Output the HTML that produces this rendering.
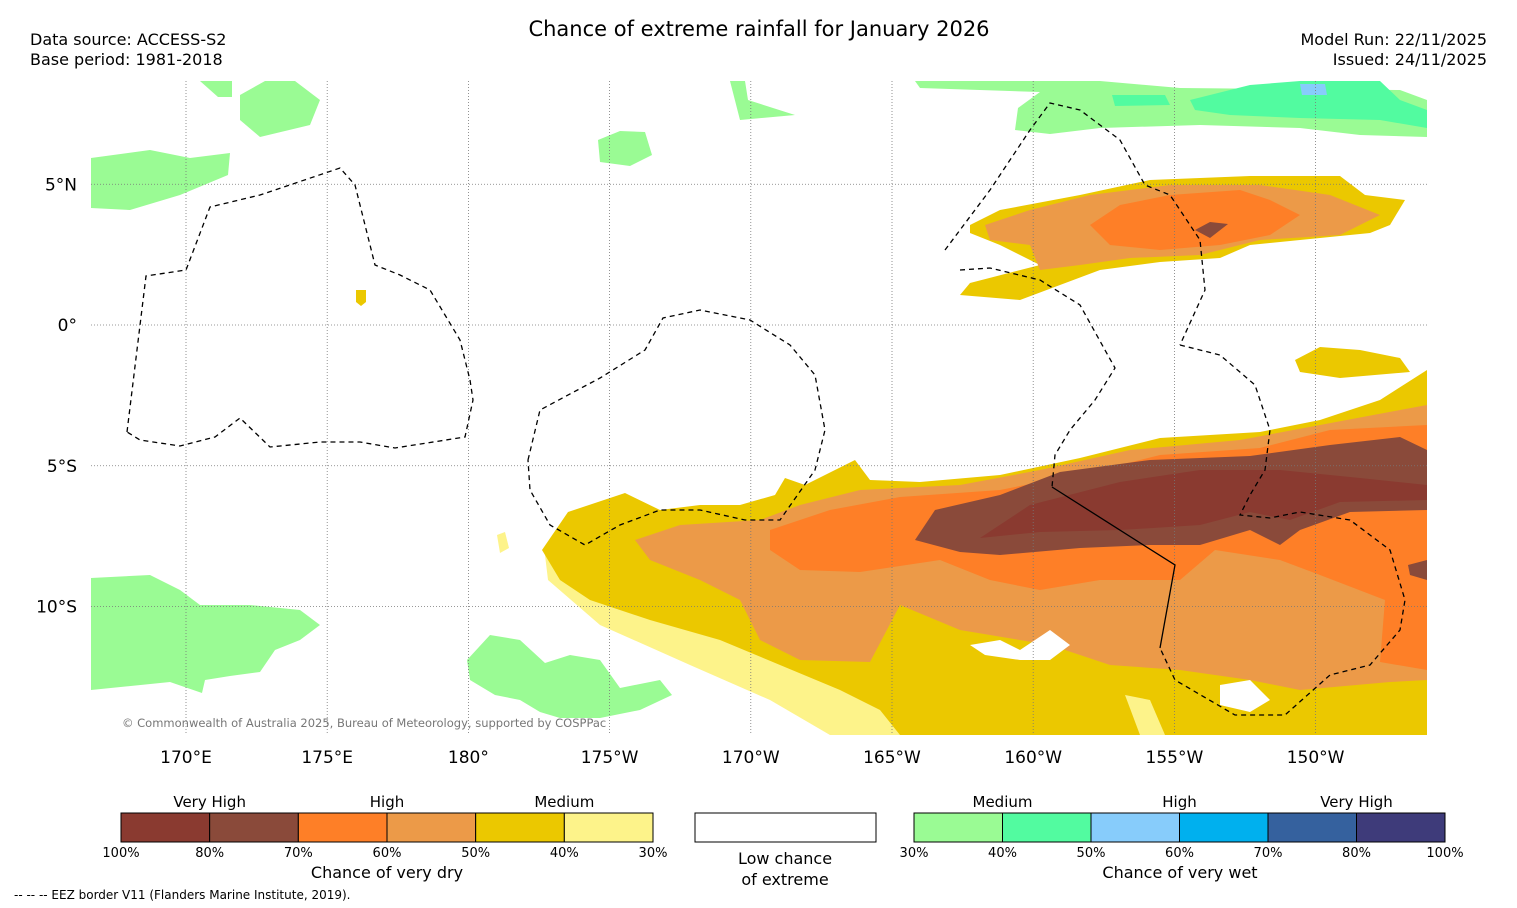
<!DOCTYPE html>
<html><head><meta charset="utf-8">
<style>
body{margin:0;background:#fff;font-family:"Liberation Sans","DejaVu Sans",sans-serif;}
#wrap{position:relative;width:1517px;height:908px;overflow:hidden;background:#fff}
svg text{font-family:"DejaVu Sans","Liberation Sans",sans-serif}
</style></head><body>
<div id="wrap">
<svg id="svg" width="1517" height="908" xmlns="http://www.w3.org/2000/svg">
<text x="759" y="36" font-size="21" text-anchor="middle">Chance of extreme rainfall for January 2026</text>
<text x="30" y="45" font-size="16">Data source: ACCESS-S2</text>
<text x="30" y="65" font-size="16">Base period: 1981-2018</text>
<text x="1487" y="45" font-size="16" text-anchor="end">Model Run: 22/11/2025</text>
<text x="1487" y="65" font-size="16" text-anchor="end">Issued: 24/11/2025</text>
<defs><clipPath id="mc"><rect x="91" y="81" width="1336" height="654"/></clipPath></defs>
<g id="map" clip-path="url(#mc)">
<polygon fill="#9afb94" points="91,158 150,150 190,158 230,153 228,175 180,195 130,210 91,208"/>
<polygon fill="#9afb94" points="240,95 265,81 295,81 320,100 310,125 260,137 240,120"/>
<polygon fill="#9afb94" points="200,81 232,81 232,97 218,97"/>
<polygon fill="#9afb94" points="598,140 620,131 645,132 652,155 630,166 600,162"/>
<polygon fill="#9afb94" points="730,81 745,81 748,100 795,115 740,120"/>
<polygon fill="#9afb94" points="915,81 1100,81 1180,88 1400,90 1427,100 1427,137 1360,135 1300,128 1200,125 1100,128 1050,134 1015,130 1018,108 1040,92 920,88"/>
<polygon fill="#52fba0" points="1112,95 1165,95 1170,105 1115,106"/>
<polygon fill="#52fba0" points="1190,100 1250,85 1300,81 1380,81 1400,100 1427,110 1427,128 1380,120 1300,118 1230,115 1195,110"/>
<polygon fill="#87ccfb" points="1300,84 1325,84 1327,95 1302,95"/>
<polygon fill="#9afb94" points="91,578 150,575 180,590 200,605 250,605 300,610 320,625 300,640 275,650 260,672 230,676 205,680 202,693 170,682 91,690"/>
<polygon fill="#9afb94" points="467,660 490,635 520,640 545,663 570,655 600,660 620,688 660,680 672,695 640,710 600,718 560,718 540,712 520,700 495,695 470,680"/>
<polygon fill="#fdf38a" points="545,555 548,580 600,625 690,665 770,700 830,735 910,735 910,700 700,600 560,560"/>
<polygon fill="#ebc800" points="542,550 568,512 610,498 625,493 660,510 700,505 740,505 775,495 785,478 805,485 855,460 870,480 920,482 1000,475 1080,458 1160,438 1260,432 1320,420 1380,400 1427,370 1427,735 900,735 880,710 840,690 780,665 720,640 650,620 590,600 560,580"/>
<polygon fill="#fdf38a" points="1125,695 1150,700 1165,735 1140,735"/>
<polygon fill="#ec9a48" points="635,540 680,525 760,520 800,505 860,490 960,485 1040,470 1130,450 1240,440 1320,425 1400,410 1427,405 1427,680 1390,682 1300,690 1250,680 1180,670 1110,665 1050,645 960,630 900,605 870,662 800,660 760,640 740,600 700,580 650,560"/>
<polygon fill="#fe7f27" points="770,530 830,510 900,497 1000,490 1100,470 1160,455 1260,448 1330,430 1427,425 1427,670 1380,662 1385,600 1320,575 1280,560 1215,550 1180,580 1100,580 1040,590 990,580 940,560 860,572 800,570 770,550"/>
<polygon fill="#8a4a3a" points="915,540 935,510 1000,495 1060,472 1150,460 1250,456 1330,445 1400,437 1427,450 1427,510 1350,512 1300,530 1280,545 1250,530 1200,545 1150,545 1080,548 1000,555 960,552"/>
<polygon fill="#8a3a30" points="980,538 1030,505 1120,482 1200,470 1280,470 1360,478 1427,485 1427,500 1340,502 1290,520 1250,512 1200,525 1120,530 1040,532"/>
<polygon fill="#8a4a3a" points="1408,565 1427,560 1427,580 1410,575"/>
<polygon fill="#fff" points="970,645 1000,640 1020,650 1050,630 1070,645 1050,660 1020,660 985,655"/>
<polygon fill="#fff" points="1220,685 1250,680 1270,700 1250,712 1220,705"/>
<polygon fill="#ebc800" points="1295,360 1320,347 1360,350 1400,358 1410,372 1340,378 1300,372"/>
<polygon fill="#ebc800" points="970,225 1000,210 1080,195 1150,180 1250,176 1340,176 1365,195 1405,200 1390,225 1370,233 1300,240 1250,245 1220,258 1160,262 1100,270 1060,285 1020,300 960,295 970,283 1040,265 1000,245 970,233"/>
<polygon fill="#ec9a48" points="985,225 1030,210 1090,195 1170,185 1260,185 1330,195 1380,215 1340,235 1260,240 1200,255 1130,258 1080,265 1040,270 1030,245 990,240"/>
<polygon fill="#fe7f27" points="1090,225 1120,205 1170,195 1240,190 1270,200 1300,215 1270,235 1220,245 1160,250 1110,245"/>
<polygon fill="#8a4a3a" points="1195,230 1210,222 1228,224 1210,238"/>
<polygon fill="#ebc800" points="356,290 366,290 366,302 361,306 356,302"/>
<polygon fill="#fdf38a" points="497,535 505,532 509,548 500,553"/>
<g id="grid"></g>
<g fill="none" stroke="#000" stroke-width="1.3" stroke-dasharray="5,4">
<polyline points="127,432 146,276 186,270 210,207 260,195 340,168 355,185 375,265 400,275 430,290 460,340 470,380 473,400 465,437 395,448 360,442 320,442 270,447 240,418 215,437 180,446 140,440 127,432"/>
<polyline points="528,460 540,410 600,378 645,350 663,318 700,310 750,320 790,345 815,375 825,430 815,470 780,520 745,520 700,510 660,510 620,525 585,545 550,525 530,490 528,460"/>
<polyline points="945,250 990,190 1030,130 1050,103 1080,110 1120,140 1145,185 1170,195 1200,240 1205,290 1180,345"/>
<polyline points="960,270 990,268 1040,280 1080,305 1115,368 1095,400 1070,430 1055,455 1052,487"/>
<polyline points="1180,345 1220,355 1255,385 1270,430 1265,470 1250,495 1240,515 1270,518 1300,512 1350,520 1390,550 1405,600 1400,630 1370,665 1330,675 1285,715 1235,715 1175,680 1160,648"/>
</g>
<polyline fill="none" stroke="#000" stroke-width="1.3" points="1052,487 1175,565 1160,648"/>
</g>
<text x="122" y="727" font-size="11.5" fill="#777">© Commonwealth of Australia 2025, Bureau of Meteorology, supported by COSPPac</text>
<g id="xlabels"></g>
<g id="ylabels"></g>
<g id="legend"></g>
<rect x="695" y="813" width="181" height="29" fill="#fff" stroke="#000"/>
<text x="785" y="864" font-size="16" text-anchor="middle">Low chance</text>
<text x="785" y="885" font-size="16" text-anchor="middle">of extreme</text>
<text x="387" y="878" font-size="16" text-anchor="middle">Chance of very dry</text>
<text x="1180" y="878" font-size="16" text-anchor="middle">Chance of very wet</text>
<text x="14" y="899" font-size="12">--  --  -- EEZ border V11 (Flanders Marine Institute, 2019).</text>
</svg>
</div>
<script>
const lonTicks=["170°E","175°E","180°","175°W","170°W","165°W","160°W","155°W","150°W"];
const lonValues=[170,175,180,185,190,195,200,205,210];
const latTicks=["5°N","0°","5°S","10°S"];
const latValues=[5,0,-5,-10];
const dryLabels=["100%","80%","70%","60%","50%","40%","30%"];
const dryColors=["#8a3a30","#8a4a3a","#fe7f27","#ec9a48","#ebc800","#fdf38a"];
const dryCats=["Very High","High","Medium"];
const wetLabels=["30%","40%","50%","60%","70%","80%","100%"];
const wetColors=["#9afb94","#52fba0","#87ccfb","#00b0ee","#35619e","#3e3b7a"];
const wetCats=["Medium","High","Very High"];
const NS="http://www.w3.org/2000/svg";
const xScale=v=>186+(v-170)*28.24;
const yScale=v=>325-v*28.15;
function mk(tag,attrs,parent,txt){const e=document.createElementNS(NS,tag);for(const k in attrs)e.setAttribute(k,attrs[k]);if(txt!==undefined)e.textContent=txt;parent.appendChild(e);return e;}
const grid=document.getElementById('grid'),xl=document.getElementById('xlabels'),yl=document.getElementById('ylabels'),lg=document.getElementById('legend');
lonValues.forEach((v,i)=>{const x=xScale(v);
const l=mk('line',{x1:x,x2:x,y1:81,y2:735,stroke:'#777','stroke-width':0.8,'stroke-dasharray':'1,2'},grid);


const t=mk('text',{x:x,y:763,'font-size':17,'text-anchor':'middle'},xl,lonTicks[i]);

});
latValues.forEach((v,i)=>{const y=yScale(v);
const l=mk('line',{x1:91,x2:1427,y1:y,y2:y,stroke:'#777','stroke-width':0.8,'stroke-dasharray':'1,2'},grid);


const t=mk('text',{x:77,y:y+6,'font-size':17,'text-anchor':'end'},yl,latTicks[i]);

});
function bar(x0,x1,colors,labels,cats,prefix){const w=(x1-x0)/colors.length;
colors.forEach((c,i)=>{const r=mk('rect',{x:x0+i*w,y:813,width:w,height:29,fill:c,stroke:'#000','stroke-width':1},lg);

});
labels.forEach((s,i)=>{const t=mk('text',{x:x0+i*w,y:857,'font-size':13,'text-anchor':'middle'},lg,s);

});
cats.forEach((s,i)=>{const t=mk('text',{x:x0+(2*i+1)*w,y:807,'font-size':15,'text-anchor':'middle'},lg,s);

});}
bar(121,653,dryColors,dryLabels,dryCats,'dry-legend');
bar(914,1445,wetColors,wetLabels,wetCats,'wet-legend');
</script>
</body></html>
